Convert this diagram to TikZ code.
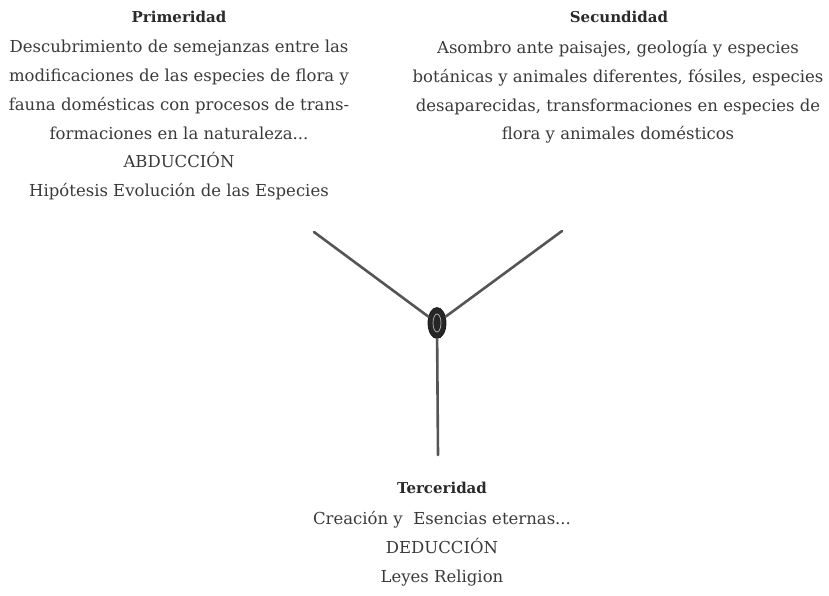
\documentclass[tikz,border=0pt]{standalone}
\usepackage{fontspec}
\setmainfont{DejaVu Serif}
\usetikzlibrary{shapes.geometric}
\definecolor{txt}{HTML}{3A3A3A}
\definecolor{ttl}{HTML}{2A2A2A}
\definecolor{stem}{HTML}{555555}
\begin{document}
\begin{tikzpicture}[x=1pt,y=-1pt,
  title/.style={font=\fontsize{15}{18}\selectfont\bfseries, text=ttl, inner sep=0pt},
  body/.style={font=\fontsize{16.5}{28.8}\selectfont, text=txt, align=center, inner sep=0pt},
  stemline/.style={draw=stem, line width=2.6pt, line cap=round},
  hub/.style={ellipse, fill=black!85, draw=black!90, line width=0.8pt, minimum width=18pt, minimum height=31pt, inner sep=0pt}]
\useasboundingbox (0,0) rectangle (829,595);
% titles
\node[title] (pt) at (179,17) {Primeridad};
\node[title] (st) at (619,17) {Secundidad};
\node[title] (tt) at (442,488) {Terceridad};
% bodies
\node[body, anchor=north] (pb) at (179,40) {Descubrimiento de semejanzas entre las\\modificaciones de las especies de flora y\\fauna domésticas con procesos de trans-\\formaciones en la naturaleza...\\ABDUCCIÓN\\Hipótesis Evolución de las Especies};
\node[body, anchor=north] (sb) at (618,40) {Asombro ante paisajes, geología y especies\\botánicas y animales diferentes, fósiles, especies\\desaparecidas, transformaciones en especies de\\flora y animales domésticos};
\node[body, anchor=north] (tb) at (442,511) {Creación y~~Esencias eternas...\\DEDUCCIÓN\\Leyes Religion};
% hub
\node[hub] (c) at (437,323) {};
\draw[gray!55, line width=0.7pt] (437,323) ellipse (4pt and 9pt);
\coordinate (l) at (314,232);
\coordinate (r) at (562,231);
\coordinate (b) at (438,455);
\draw[stemline] (l) -- (c);
\draw[stemline] (r) -- (c);
\draw[stemline] (b) -- (c);
\end{tikzpicture}
\end{document}
